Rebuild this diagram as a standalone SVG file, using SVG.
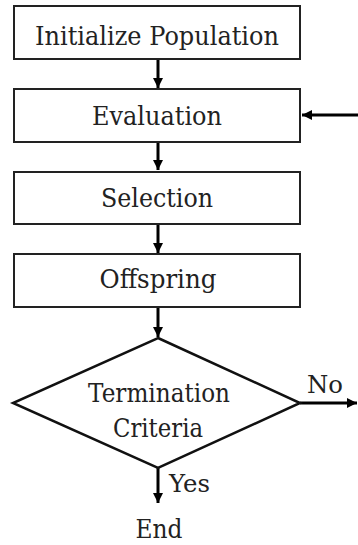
<svg xmlns="http://www.w3.org/2000/svg" width="358" height="545" viewBox="0 0 358 545">
<style>
text{font-family:'DejaVu Serif','Liberation Serif',serif;fill:#222}
.box{fill:#fff;stroke:#222;stroke-width:2}
.t{font-size:26px;text-anchor:middle}
.tl{font-size:25px}
.c{stroke:#000;stroke-width:3;fill:none;marker-end:url(#ah)}
</style>
<defs>
<marker id="ah" markerUnits="userSpaceOnUse" markerWidth="12" markerHeight="12" refX="10" refY="6" orient="auto">
<path d="M0,1 L10,6 L0,11 Z" fill="#000"/>
</marker>
</defs>
<rect width="358" height="545" fill="#fff"/>
<g id="connectors">
<line class="c" x1="158" y1="60" x2="158" y2="88"/>
<line class="c" x1="158" y1="142" x2="158" y2="170"/>
<line class="c" x1="158" y1="225" x2="158" y2="253"/>
<line class="c" x1="158" y1="308" x2="158" y2="337"/>
<line class="c" x1="358" y1="115" x2="302" y2="115"/>
<line class="c" x1="300" y1="403" x2="357" y2="403"/>
<line class="c" x1="158" y1="468" x2="158" y2="503"/>
<text class="tl" x="307" y="393" textLength="36" lengthAdjust="spacingAndGlyphs">No</text>
<text class="tl" x="169" y="492" textLength="41" lengthAdjust="spacingAndGlyphs">Yes</text>
</g>
<g id="init"><rect class="box" x="14" y="6" width="286" height="53"/><text class="t" x="157" y="45" textLength="244" lengthAdjust="spacingAndGlyphs">Initialize Population</text></g>
<g id="eval"><rect class="box" x="14" y="89" width="286" height="53"/><text class="t" x="157" y="125" textLength="130" lengthAdjust="spacingAndGlyphs">Evaluation</text></g>
<g id="select"><rect class="box" x="14" y="172" width="286" height="52"/><text class="t" x="157" y="207" textLength="112" lengthAdjust="spacingAndGlyphs">Selection</text></g>
<g id="offspring"><rect class="box" x="14" y="254" width="286" height="53"/><text class="t" x="158" y="288" textLength="117" lengthAdjust="spacingAndGlyphs">Offspring</text></g>
<g id="term"><polygon points="158,338 300,403 158,468 13,403" fill="#fff" stroke="#111" stroke-width="2.5"/><text class="t" x="159" y="402" textLength="142" lengthAdjust="spacingAndGlyphs">Termination</text><text class="t" x="158" y="437" textLength="90" lengthAdjust="spacingAndGlyphs">Criteria</text></g>
<g id="end"><text class="t" x="159" y="538" textLength="47" lengthAdjust="spacingAndGlyphs">End</text></g>
</svg>
